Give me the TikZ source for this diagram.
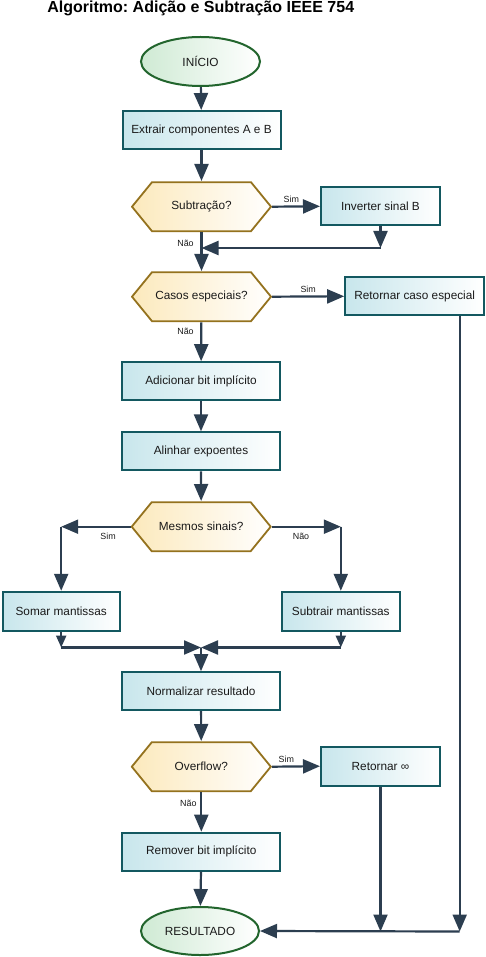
\documentclass[tikz,border=0pt]{standalone}
\usepackage{fontspec}
\setmainfont{Liberation Sans}
\usetikzlibrary{shapes.geometric,arrows.meta}
\frenchspacing
\definecolor{procfill}{HTML}{C8E6EC}
\definecolor{procline}{HTML}{135860}
\definecolor{decfill}{HTML}{FCE9BC}
\definecolor{decline}{HTML}{94721E}
\definecolor{termfill}{HTML}{CFEAD4}
\definecolor{termline}{HTML}{22652D}
\definecolor{arrcol}{HTML}{2C3E50}
\definecolor{txt}{HTML}{1A1A1A}
\tikzset{
  proc/.style={rectangle, draw=procline, line width=2pt, left color=procfill, right color=white,
    minimum width=158pt, minimum height=38pt, inner sep=0pt, text=txt, font=\fontsize{11.8}{13}\selectfont},
  term/.style={ellipse, draw=termline, line width=2pt, left color=termfill, right color=white,
    minimum width=119pt, minimum height=49pt, inner sep=0pt, text=txt, font=\fontsize{11.8}{13}\selectfont},
  hexa/.style={rectangle, minimum width=141pt, minimum height=51pt, inner sep=0pt, text=txt,
    font=\fontsize{11.8}{13}\selectfont,
    path picture={\shadedraw[left color=decfill, right color=white, draw=decline, line width=1.8pt]
      ([xshift=1pt]path picture bounding box.west)
      -- ([xshift=21pt,yshift=-1pt]path picture bounding box.north west)
      -- ([xshift=-21pt,yshift=-1pt]path picture bounding box.north east)
      -- ([xshift=-1pt]path picture bounding box.east)
      -- ([xshift=-21pt,yshift=1pt]path picture bounding box.south east)
      -- ([xshift=21pt,yshift=1pt]path picture bounding box.south west) -- cycle;}},
  arr/.style={draw=arrcol, line width=2.2pt, -{Triangle[length=17pt,width=14pt]}},
  arrs/.style={draw=arrcol, line width=2.2pt, -{Triangle[length=12pt,width=10pt]}},
  lbl/.style={text=txt, font=\fontsize{8.9}{10}\selectfont, inner sep=0pt},
}
\begin{document}
\begin{tikzpicture}[x=1pt,y=-1pt]
\useasboundingbox (0,0) rectangle (486,957);
\node[font=\bfseries\fontsize{16}{18}\selectfont, anchor=base, inner sep=0pt] (title) at (200.8,12.4) {Algoritmo: Adição e Subtração IEEE 754};

\node[term] (inicio) at (200.5,61.5) {INÍCIO};
\node[proc] (extr) at (201.5,130) {Extrair componentes A e B};
\node[hexa] (sub) at (201.5,206.7) {Subtração?};
\node[proc, minimum width=119pt] (inv) at (380.5,206.3) {Inverter sinal B};
\node[hexa] (casos) at (201.5,296.7) {Casos especiais?};
\node[proc, minimum width=139pt] (ret) at (414.7,296.3) {Retornar caso especial};
\node[proc] (adic) at (201,381.2) {Adicionar bit implícito};
\node[proc] (alin) at (201,451.3) {Alinhar expoentes};
\node[hexa] (mesmos) at (201.2,526.7) {Mesmos sinais?};
\node[proc, minimum width=117pt, minimum height=39pt] (somar) at (61.2,611.3) {Somar mantissas};
\node[proc, minimum width=118pt, minimum height=39pt] (subt) at (340.8,611.3) {Subtrair mantissas};
\node[proc] (norm) at (201,691.2) {Normalizar resultado};
\node[hexa] (over) at (201.3,766.7) {Overflow?};
\node[proc, minimum width=119pt, minimum height=39pt] (oinf) at (380.5,766.2) {Retornar ∞};
\node[proc] (remov) at (201.3,851.7) {Remover bit implícito};
\node[term, minimum width=118pt, minimum height=48pt] (res) at (200,931) {RESULTADO};

\coordinate (j1) at (380.5,248);
\coordinate (j1b) at (201.5,248);
\coordinate (ls) at (61.2,526.7);
\coordinate (rs) at (340.8,526.7);
\coordinate (lb) at (61.2,647.5);
\coordinate (rb) at (340.8,647.5);
\coordinate (mc) at (201,647.5);
\coordinate (b1) at (380.5,931.5);
\coordinate (r2) at (459.7,931.5);

\draw[arr] (inicio) -- (extr);
\draw[arr] (extr) -- (sub);
\draw[arr] (sub.east) -- (inv.west) node[lbl, pos=0.4, above=3pt] (l1) {Sim};
\draw[arr] (inv.south) -- (j1);
\draw[arr] (j1) -- (j1b);
\draw[arr] (sub) -- (casos);
\node[lbl] (l2) at (185.5,243.3) {Não};
\draw[arr] (casos.east) -- (ret.west) node[lbl, pos=0.5, above=3pt] (l3) {Sim};
\draw[arr] (ret.south -| r2) -- (r2);
\draw[arr] (casos) -- (adic);
\node[lbl] (l4) at (185.5,331.5) {Não};
\draw[arr] (adic) -- (alin);
\draw[arr] (alin) -- (mesmos);
\draw[arr] (mesmos.west) -- (ls);
\draw[arr] (ls) -- (somar.north);
\node[lbl] (l5) at (108,536) {Sim};
\draw[arr] (mesmos.east) -- (rs);
\draw[arr] (rs) -- (subt.north);
\node[lbl] (l6) at (301,536) {Não};
\draw[arrs] (somar.south) -- (lb);
\draw[arr] (lb) -- (mc);
\draw[arrs] (subt.south) -- (rb);
\draw[arr] (rb) -- (mc);
\draw[arr] (mc) -- (norm.north);
\draw[arr] (norm) -- (over);
\draw[arr] (over.east) -- (oinf.west) node[lbl, pos=0.3, above=3pt] (l7) {Sim};
\draw[arr] (over) -- (remov);
\node[lbl] (l8) at (188.3,803.3) {Não};
\draw[arr] (remov) -- (res);
\draw[arr] (oinf.south) -- (b1);
\draw[arr] (r2) -- (res.east);
\end{tikzpicture}
\end{document}
